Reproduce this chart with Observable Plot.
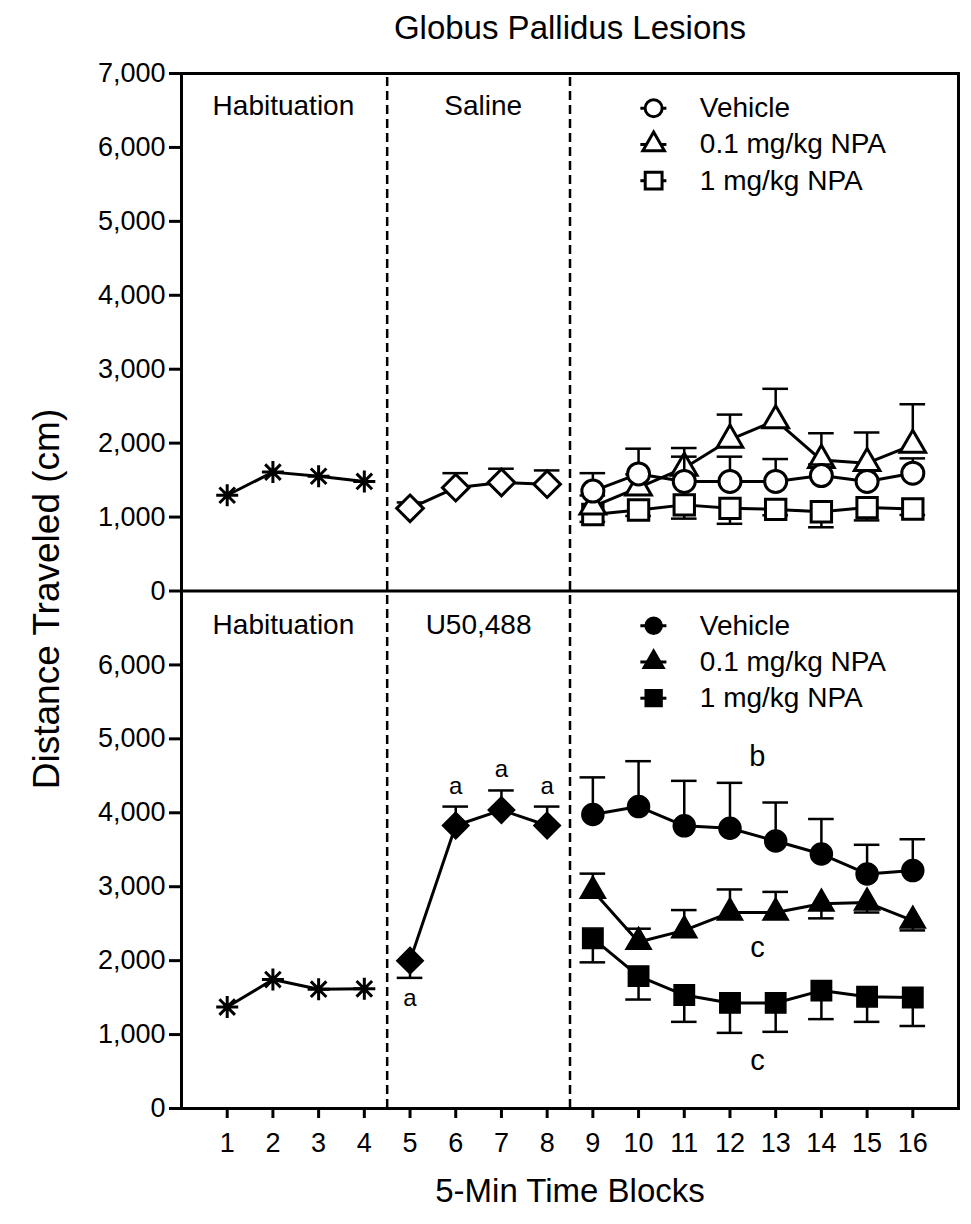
<!DOCTYPE html>
<html><head><meta charset="utf-8">
<script src="https://cdn.jsdelivr.net/npm/d3@7"></script>
<script src="https://cdn.jsdelivr.net/npm/@observablehq/plot@0.6"></script>
<style>
body{margin:0;background:#fff;}
#chart svg{display:block;}
</style>
</head><body><div id="chart"></div>
<script>
// ---------- data ----------
const habituationBlocks = [1, 2, 3, 4];
const drugBlocks = [5, 6, 7, 8];
const testBlocks = [9, 10, 11, 12, 13, 14, 15, 16];
const xTickValues = [1, 2, 3, 4, 5, 6, 7, 8, 9, 10, 11, 12, 13, 14, 15, 16];
const yTickValues = [0, 1000, 2000, 3000, 4000, 5000, 6000, 7000];

const panelNames = ["Saline", "U50,488"];
const seriesNames = ["Vehicle", "0.1 mg/kg NPA", "1 mg/kg NPA"];

// Top panel: Saline
const salHab = [1295, 1608, 1552, 1482];
const salDrug = [1118, 1398, 1468, 1445];
const salDrugSem = [80, 196, 186, 186];
const salDrugDir = [1, 1, 1, 1];
const salVehicle = [1351, 1584, 1482, 1482, 1482, 1561, 1482, 1594];
const salVehicleSem = [243, 341, 335, 335, 303, 150, 150, 200];
const salVehicleDir = [1, 1, 1, 1, 1, 1, 1, 1];
const salNpa01 = [1142, 1398, 1664, 2046, 2307, 1771, 1729, 1976];
const salNpa01Sem = [150, 180, 270, 340, 428, 363, 415, 550];
const salNpa01Dir = [1, 1, 1, 1, 1, 1, 1, 1];
const salNpa1 = [1035, 1095, 1165, 1118, 1104, 1072, 1128, 1109];
const salNpa1Sem = [100, 80, 186, 209, 80, 210, 173, 80];
const salNpa1Dir = [-1, -1, -1, -1, -1, -1, -1, -1];

// Bottom panel: U50,488
const u50Hab = [1372, 1744, 1614, 1619];
const u50Drug = [2000, 3828, 4037, 3828];
const u50DrugSem = [233, 256, 265, 256];
const u50DrugDir = [-1, 1, 1, 1];
const u50Vehicle = [3977, 4084, 3823, 3791, 3618, 3442, 3172, 3218];
const u50VehicleSem = [502, 614, 609, 614, 521, 474, 395, 424];
const u50VehicleDir = [1, 1, 1, 1, 1, 1, 1, 1];
const u50Npa01 = [2945, 2253, 2410, 2650, 2650, 2770, 2785, 2540];
const u50Npa01Sem = [232, 179, 274, 313, 280, 198, 134, 131];
const u50Npa01Dir = [1, 1, 1, 1, 1, -1, -1, -1];
const u50Npa1 = [2302, 1791, 1535, 1428, 1428, 1595, 1512, 1502];
const u50Npa1Sem = [325, 317, 363, 405, 391, 386, 340, 386];
const u50Npa1Dir = [-1, -1, -1, -1, -1, -1, -1, -1];

// phase labels
const phaseLabelText = ["Habituation", "Saline", "Habituation", "U50,488"];
const phaseLabelPanel = ["Saline", "Saline", "U50,488", "U50,488"];
const phaseLabelX = [2.23, 6.6, 2.23, 6.5];
const phaseLabelY = [6563, 6563, 6541, 6541];

// legend
const legendY = [6530, 6040, 5550];

// significance letters
const statText = ["a", "a", "a", "a", "b", "c", "c"];
const statX = [5, 6, 7, 8, 12.6, 12.6, 12.6];
const statY = [1489, 4360, 4590, 4360, 4752, 2169, 650];
const statSize = ["small", "small", "small", "small", "big", "big", "big"];

// ---------- build tables ----------
const panelOffset = {"Saline": 7000, "U50,488": 0};
const rows = [];
function add(panel, series, phase, xs, vs, sems, dirs) {
  xs.forEach((x, i) => rows.push({
    panel, series, phase, x, v: vs[i],
    y: vs[i] + panelOffset[panel],
    sem: sems ? sems[i] : 0, dir: dirs ? dirs[i] : 1,
    key: panel + "|" + series + "|" + phase
  }));
}
add("Saline", "hab", "hab", habituationBlocks, salHab);
add("Saline", "drug", "drug", drugBlocks, salDrug, salDrugSem, salDrugDir);
add("Saline", seriesNames[0], "test", testBlocks, salVehicle, salVehicleSem, salVehicleDir);
add("Saline", seriesNames[1], "test", testBlocks, salNpa01, salNpa01Sem, salNpa01Dir);
add("Saline", seriesNames[2], "test", testBlocks, salNpa1, salNpa1Sem, salNpa1Dir);
add("U50,488", "hab", "hab", habituationBlocks, u50Hab);
add("U50,488", "drug", "drug", drugBlocks, u50Drug, u50DrugSem, u50DrugDir);
add("U50,488", seriesNames[0], "test", testBlocks, u50Vehicle, u50VehicleSem, u50VehicleDir);
add("U50,488", seriesNames[1], "test", testBlocks, u50Npa01, u50Npa01Sem, u50Npa01Dir);
add("U50,488", seriesNames[2], "test", testBlocks, u50Npa1, u50Npa1Sem, u50Npa1Dir);

const phaseLabels = phaseLabelText.map((t, i) => ({text: t, x: phaseLabelX[i], y: phaseLabelY[i] + panelOffset[phaseLabelPanel[i]]}));
const legendRows = [];
panelNames.forEach(p => seriesNames.forEach((s, i) => legendRows.push({panel: p, series: s, y: legendY[i] + panelOffset[p]})));
const stats = statText.map((t, i) => ({text: t, x: statX[i], y: statY[i], size: statSize[i]}));

const yTicksAll = Array.from(new Set([...yTickValues, ...yTickValues.map(v => v + 7000)])).sort((a, b) => a - b);
const fmt = d3.format(",");

// custom 8-arm asterisk symbol
const asteriskSym = {
  draw(ctx, size) {
    const r = Math.sqrt(size / Math.PI);
    const d = r * Math.SQRT1_2;
    ctx.moveTo(-r, 0); ctx.lineTo(r, 0);
    ctx.moveTo(0, -r); ctx.lineTo(0, r);
    ctx.moveTo(-d, -d); ctx.lineTo(d, d);
    ctx.moveTo(-d, d); ctx.lineTo(d, -d);
  }
};
const symbolFor = {"Vehicle": "circle", "0.1 mg/kg NPA": "triangle", "1 mg/kg NPA": "square", "drug": "diamond2"};
const radiusFor = {"Vehicle": 11, "0.1 mg/kg NPA": 9.5, "1 mg/kg NPA": 11.5, "drug": 12};
const legendRadiusFor = {"Vehicle": 8.5, "0.1 mg/kg NPA": 8, "1 mg/kg NPA": 9.5};
const drawOrder = ["drug", "1 mg/kg NPA", "0.1 mg/kg NPA", "Vehicle"];

function dotMarks(data, series, isLegend) {
  const sym = symbolFor[series];
  const r = isLegend ? legendRadiusFor[series] : radiusFor[series];
  const open = data.filter(d => d.panel === "Saline");
  const full = data.filter(d => d.panel === "U50,488");
  const xo = isLegend ? {x: () => 10.33} : {x: "x"};
  return [
    Plot.dot(open, {...xo, y: "y", symbol: () => sym, r, fill: "white", stroke: "black", strokeWidth: 3}),
    Plot.dot(full, {...xo, y: "y", symbol: () => sym, r, fill: "black", stroke: "black", strokeWidth: 1.5})
  ];
}

const marks = [
  Plot.ruleX([4.5, 8.5], {y1: 0, y2: 14000, stroke: "black", strokeWidth: 2.5, strokeDasharray: "9,5"}),
  Plot.ruleY([7000], {stroke: "black", strokeWidth: 3}),
  Plot.frame({stroke: "black", strokeWidth: 3}),
];

for (const s of ["hab", ...drawOrder]) {
  const data = rows.filter(d => d.series === s);
  const err = data.filter(d => d.sem > 0);
  marks.push(
    Plot.ruleX(err, {x: "x", y1: "y", y2: d => d.y + d.dir * d.sem, stroke: "black", strokeWidth: 2.5}),
    Plot.ruleY(err, {y: d => d.y + d.dir * d.sem, x1: d => d.x - 0.28, x2: d => d.x + 0.28, stroke: "black", strokeWidth: 2.5}),
    Plot.line(data, {x: "x", y: "y", z: "key", stroke: "black", strokeWidth: 3})
  );
  if (s === "hab") {
    marks.push(Plot.dot(data, {x: "x", y: "y", symbol: () => asteriskSym, r: 11, stroke: "black", strokeWidth: 3}));
  } else {
    marks.push(...dotMarks(data, s, false));
  }
}

// legend
marks.push(
  Plot.ruleY(legendRows, {y: "y", x1: 10.05, x2: 10.62, stroke: "black", strokeWidth: 3})
);
for (const s of seriesNames) {
  marks.push(...dotMarks(legendRows.filter(d => d.series === s), s, true));
}
marks.push(
  Plot.text(legendRows, {x: 11.34, y: "y", text: "series", textAnchor: "start", fontSize: 28, fill: "black"}),
  Plot.text(phaseLabels, {x: "x", y: "y", text: "text", fontSize: 28, fill: "black"}),
  Plot.text(stats.filter(d => d.size === "small"), {x: "x", y: "y", text: "text", fontSize: 24, fill: "black"}),
  Plot.text(stats.filter(d => d.size === "big"), {x: "x", y: "y", text: "text", fontSize: 29, fill: "black"}),
  Plot.axisY({ticks: yTicksAll, tickFormat: d => fmt(d >= 7000 ? d - 7000 : d), tickSize: 12, tickPadding: 4, strokeWidth: 3, fontSize: 27, label: null, fill: "black"}),
  Plot.axisX({ticks: xTickValues, tickFormat: d => String(d), tickSize: 10, tickPadding: 14, strokeWidth: 3, fontSize: 27, label: null, fill: "black"}),
  Plot.text(["Globus Pallidus Lesions"], {frameAnchor: "top", textAnchor: "middle", lineAnchor: "middle", dy: -45, fontSize: 33, fill: "black"}),
  Plot.text(["5-Min Time Blocks"], {frameAnchor: "bottom", textAnchor: "middle", lineAnchor: "middle", dy: 83, fontSize: 33, fill: "black"}),
  Plot.text(["Distance Traveled (cm)"], {frameAnchor: "left", textAnchor: "middle", lineAnchor: "middle", rotate: -90, dx: -134, dy: 8, fontSize: 37, fill: "black"})
);

const chart = Plot.plot({
  width: 971,
  height: 1224,
  marginTop: 73,
  marginBottom: 116,
  marginLeft: 181,
  marginRight: 13,
  x: {domain: [0, 17]},
  y: {domain: [0, 14000]},
  style: {fontFamily: "'Liberation Sans', Arial, Helvetica, sans-serif", background: "white", color: "black", overflow: "visible"},
  marks
});
document.getElementById("chart").appendChild(chart);
</script>
</body></html>
